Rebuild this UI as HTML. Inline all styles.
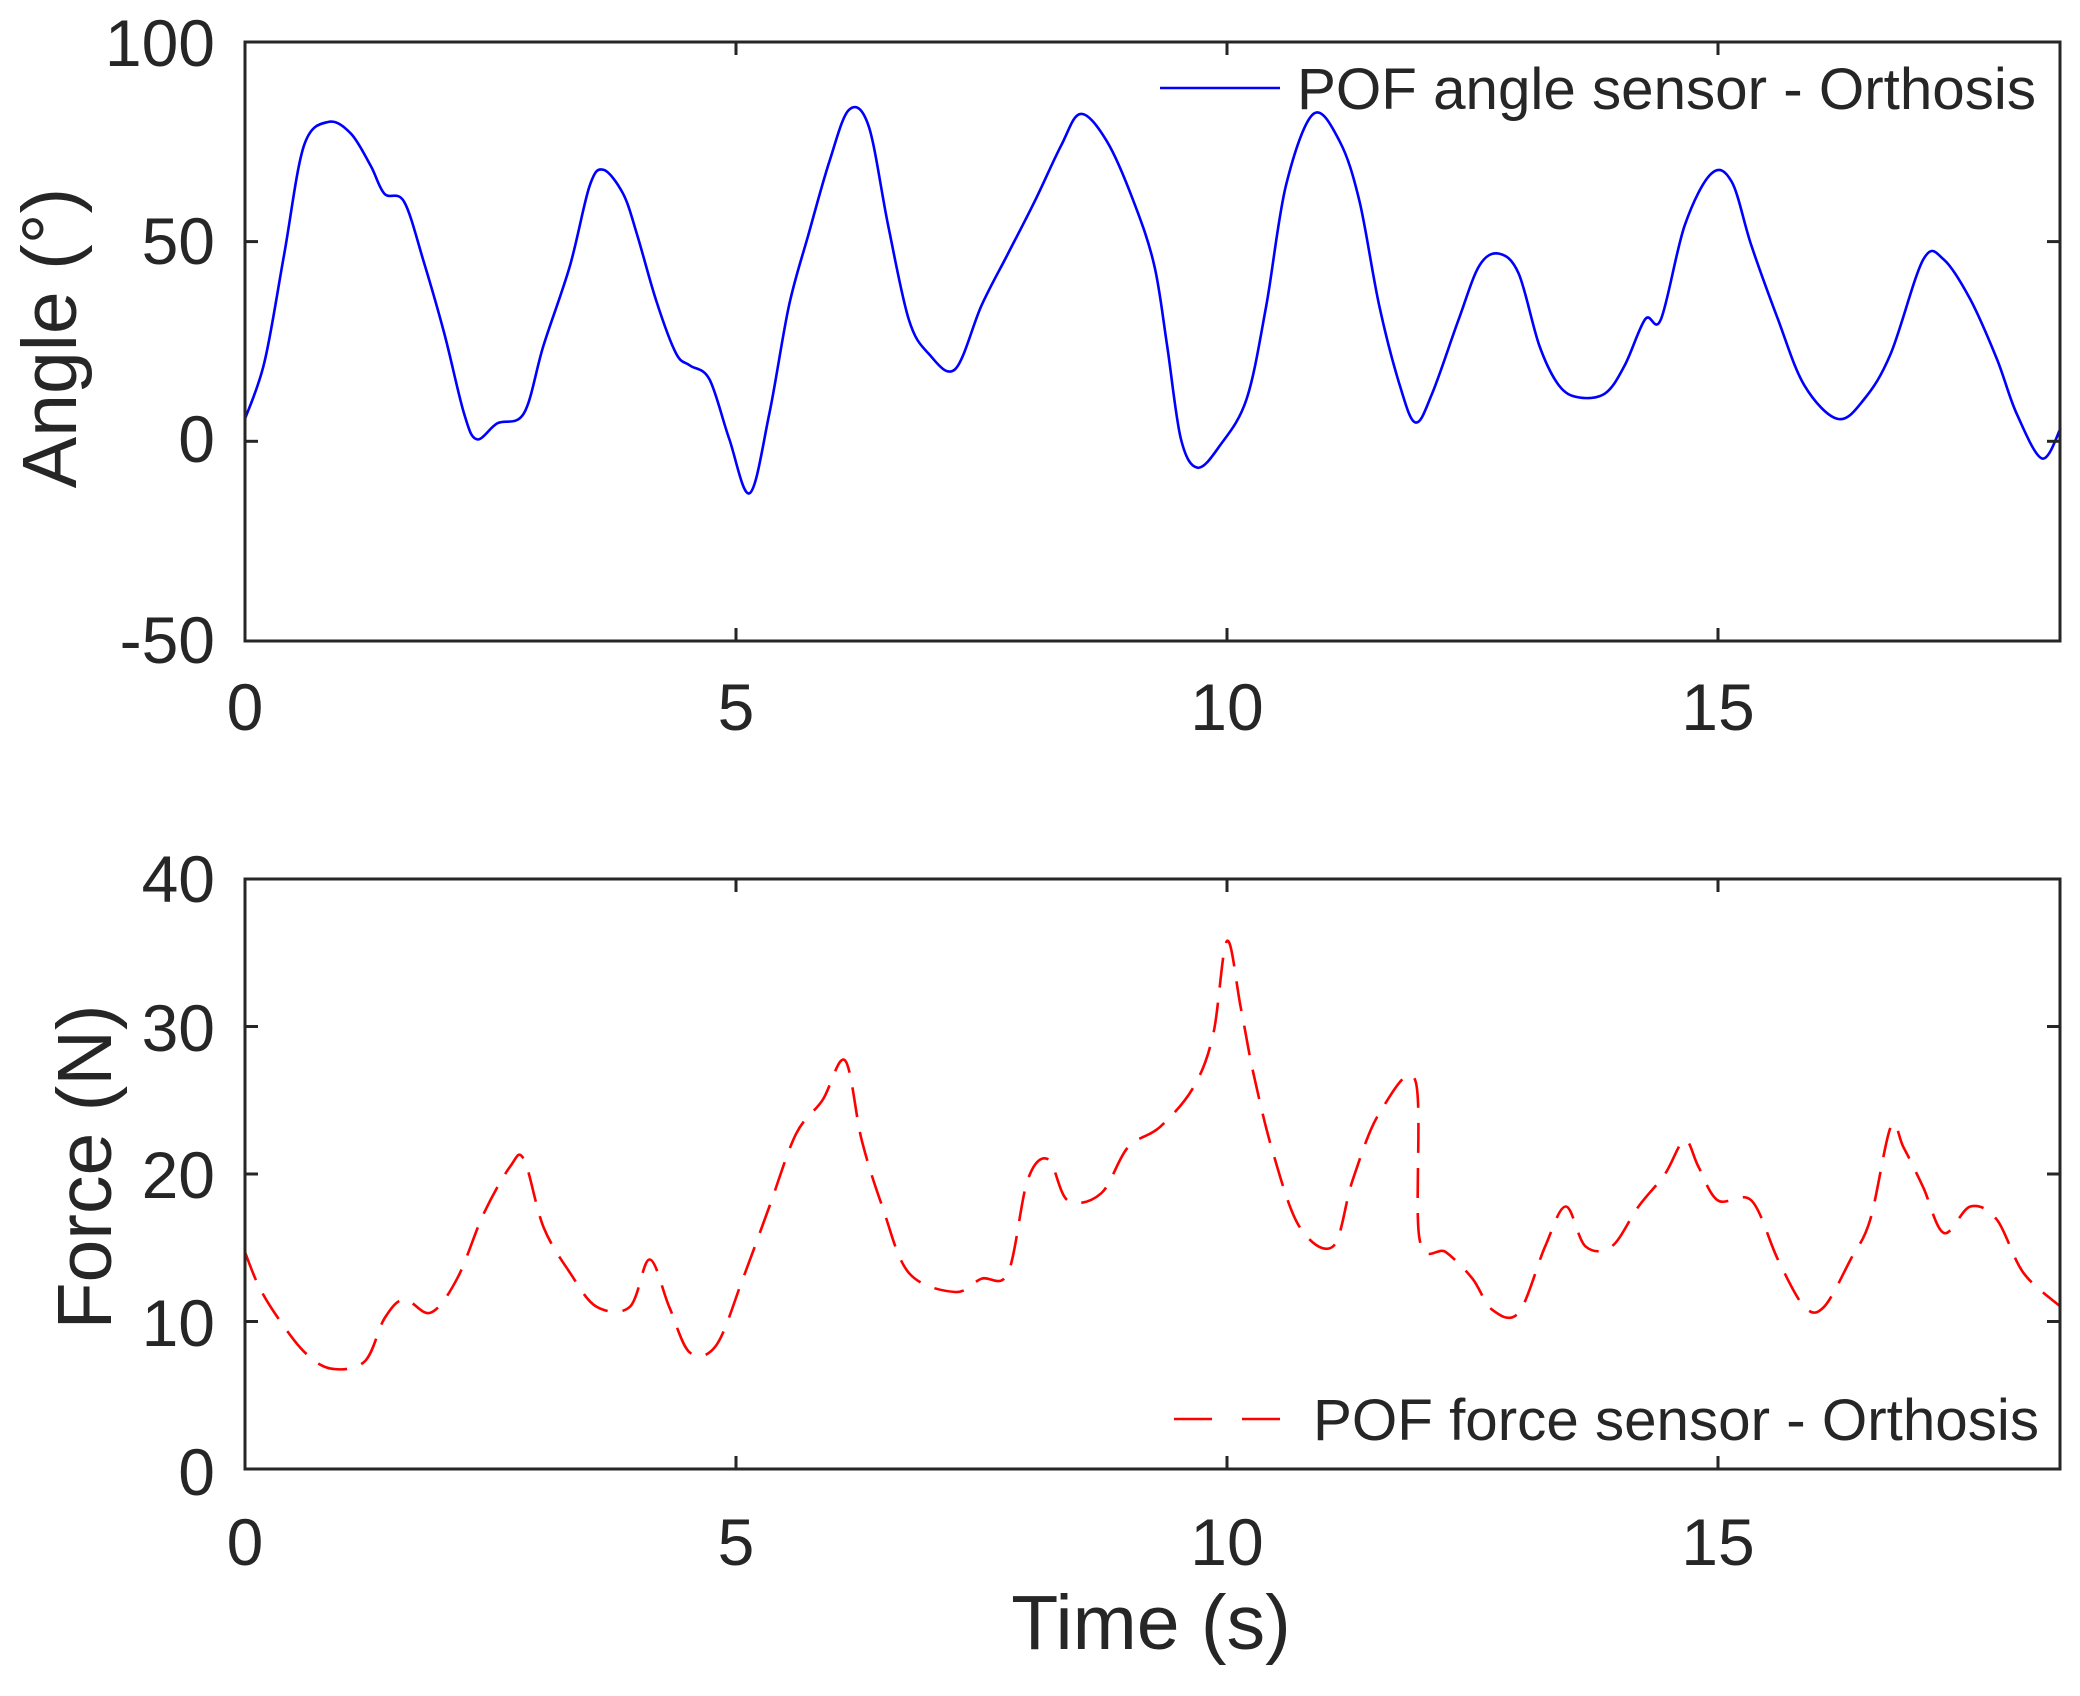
<!DOCTYPE html>
<html><head><meta charset="utf-8"><style>
html,body{margin:0;padding:0;background:#fff}
svg{display:block}
text{font-family:"Liberation Sans",sans-serif;fill:#262626}
</style></head><body>
<svg id="s" width="2080" height="1696" viewBox="0 0 2080 1696" xmlns="http://www.w3.org/2000/svg">
<rect width="2080" height="1696" fill="#fff"/>
<g id="g"></g>
<!-- top axes -->
<rect x="245" y="42" width="1815" height="599" fill="none" stroke="#262626" stroke-width="3"/>
<g font-size="66" text-anchor="end">
<text x="215" y="66">100</text>
<text x="215" y="264">50</text>
<text x="215" y="462">0</text>
<text x="215" y="663">-50</text>
</g>
<g font-size="66" text-anchor="middle">
<text x="245" y="730">0</text>
<text x="736" y="730">5</text>
<text x="1227" y="730">10</text>
<text x="1718" y="730">15</text>
</g>
<text transform="translate(76,338) rotate(-90)" font-size="77" text-anchor="middle">Angle (°)</text>
<line x1="1160" y1="88" x2="1280" y2="88" stroke="#0000ff" stroke-width="2.6"/>
<text x="1297" y="109" font-size="58" textLength="739" lengthAdjust="spacingAndGlyphs">POF angle sensor - Orthosis</text>
<!-- bottom axes -->
<rect x="245" y="879" width="1815" height="590" fill="none" stroke="#262626" stroke-width="3"/>
<g font-size="66" text-anchor="end">
<text x="215" y="902">40</text>
<text x="215" y="1051">30</text>
<text x="215" y="1198">20</text>
<text x="215" y="1346">10</text>
<text x="215" y="1495">0</text>
</g>
<g font-size="66" text-anchor="middle">
<text x="245" y="1565">0</text>
<text x="736" y="1565">5</text>
<text x="1227" y="1565">10</text>
<text x="1718" y="1565">15</text>
</g>
<text transform="translate(111,1167) rotate(-90)" font-size="77" text-anchor="middle">Force (N)</text>
<text x="1151" y="1649" font-size="77" text-anchor="middle">Time (s)</text>
<line x1="1174" y1="1419" x2="1280" y2="1419" stroke="#ff0000" stroke-width="2.6" stroke-dasharray="38 30"/>
<text x="1313" y="1440" font-size="58" textLength="726" lengthAdjust="spacingAndGlyphs">POF force sensor - Orthosis</text>
</svg>
<script>
var A=[[0,5.6],[0.2,20],[0.4,47],[0.6,74],[0.85,80],[1.08,77],[1.28,69],[1.42,62],[1.62,60],[1.82,45],[2.03,27],[2.23,7],[2.36,0.5],[2.57,4.5],[2.84,7],[3.04,24],[3.31,44],[3.51,64],[3.65,68],[3.85,62],[3.99,52],[4.19,35],[4.39,22],[4.53,19],[4.73,15.5],[4.93,0.7],[5.14,-13],[5.34,7],[5.54,34],[5.74,52],[5.95,70],[6.15,83],[6.35,79],[6.55,54],[6.76,30.5],[6.96,22],[7.23,18],[7.5,34],[7.77,47],[8.04,60],[8.31,74],[8.51,82],[8.78,75],[9.05,60],[9.26,44],[9.39,24],[9.53,0.7],[9.7,-6.6],[9.93,-1],[10.2,10.6],[10.4,34],[10.6,64],[10.88,82],[11.15,75],[11.35,60],[11.55,34],[11.76,14],[11.92,4.7],[12.09,12],[12.36,30.6],[12.57,44],[12.77,47],[12.97,42],[13.18,24],[13.38,14],[13.58,11],[13.85,12],[14.05,19],[14.26,30.6],[14.42,30.6],[14.66,54],[14.93,67],[15.14,65],[15.34,49],[15.61,30.6],[15.88,14],[16.22,5.6],[16.49,10.6],[16.76,22],[17.09,45.5],[17.3,45.5],[17.57,35.5],[17.84,20.6],[18.04,7],[18.3,-4.3],[18.49,3.3]];
var F=[[0,14.7],[0.14,12.4],[0.34,10.2],[0.61,7.9],[0.88,6.8],[1.22,7.3],[1.42,10.2],[1.62,11.5],[1.89,10.6],[2.16,12.9],[2.43,17.3],[2.7,20.5],[2.84,21],[3.04,16.4],[3.31,13.3],[3.58,11],[3.92,11],[4.12,14.2],[4.32,11],[4.53,7.9],[4.8,8.4],[5.07,12.9],[5.34,17.8],[5.61,22.7],[5.88,25],[6.11,27.7],[6.28,22.3],[6.49,17.8],[6.76,13.3],[7.23,12],[7.5,12.9],[7.77,13.3],[7.97,19.6],[8.18,21],[8.38,18.2],[8.72,18.7],[8.99,21.8],[9.32,23.2],[9.66,25.9],[9.86,29.5],[10,35.8],[10.14,31.3],[10.27,26.8],[10.47,21.4],[10.74,16.4],[11.08,15.1],[11.28,19.6],[11.55,24.1],[11.92,26.3],[11.96,15.6],[12.23,14.7],[12.5,12.9],[12.7,10.8],[12.97,10.6],[13.24,15.1],[13.45,17.8],[13.65,15.1],[13.92,15.1],[14.19,17.8],[14.46,20],[14.66,22.3],[14.8,20.5],[15,18.2],[15.34,18.2],[15.61,14.2],[15.88,11],[16.08,11],[16.35,14.2],[16.55,16.9],[16.76,23.2],[16.89,21.8],[17.09,19.1],[17.3,16],[17.57,17.8],[17.84,16.9],[18.11,13.3],[18.49,11]];
var px=98.2,x0=245;
function path(d,y0,k){
 var P=d.map(function(p){return [x0+p[0]*px,y0-p[1]*k];});
 var s="M"+P[0][0].toFixed(1)+","+P[0][1].toFixed(1);
 for(var i=0;i<P.length-1;i++){
  var p0=P[Math.max(0,i-1)],p1=P[i],p2=P[i+1],p3=P[Math.min(P.length-1,i+2)];
  var c1=[p1[0]+(p2[0]-p0[0])/6,p1[1]+(p2[1]-p0[1])/6],c2=[p2[0]-(p3[0]-p1[0])/6,p2[1]-(p3[1]-p1[1])/6];
  s+=" C"+c1[0].toFixed(1)+","+c1[1].toFixed(1)+" "+c2[0].toFixed(1)+","+c2[1].toFixed(1)+" "+p2[0].toFixed(1)+","+p2[1].toFixed(1);
 }
 return s;
}
var ns="http://www.w3.org/2000/svg",g=document.getElementById("g");
function add(tag,at){var e=document.createElementNS(ns,tag);for(var k in at)e.setAttribute(k,at[k]);g.appendChild(e);}
add("path",{d:path(A,441.3,3.993),fill:"none",stroke:"#0000ff","stroke-width":"2.6"});
add("path",{d:path(F,1469,14.75),fill:"none",stroke:"#ff0000","stroke-width":"2.6","stroke-dasharray":"30 15"});
var t=13;
[736,1227,1718].forEach(function(x){
 add("line",{x1:x,y1:641,x2:x,y2:641-t,stroke:"#262626","stroke-width":3});
 add("line",{x1:x,y1:42,x2:x,y2:42+t,stroke:"#262626","stroke-width":3});
 add("line",{x1:x,y1:1469,x2:x,y2:1469-t,stroke:"#262626","stroke-width":3});
 add("line",{x1:x,y1:879,x2:x,y2:879+t,stroke:"#262626","stroke-width":3});
});
[241.6,441.3].forEach(function(y){
 add("line",{x1:245,y1:y,x2:245+t,y2:y,stroke:"#262626","stroke-width":3});
 add("line",{x1:2060,y1:y,x2:2060-t,y2:y,stroke:"#262626","stroke-width":3});
});
[1026.5,1174,1321.5].forEach(function(y){
 add("line",{x1:245,y1:y,x2:245+t,y2:y,stroke:"#262626","stroke-width":3});
 add("line",{x1:2060,y1:y,x2:2060-t,y2:y,stroke:"#262626","stroke-width":3});
});
</script>
</body></html>
